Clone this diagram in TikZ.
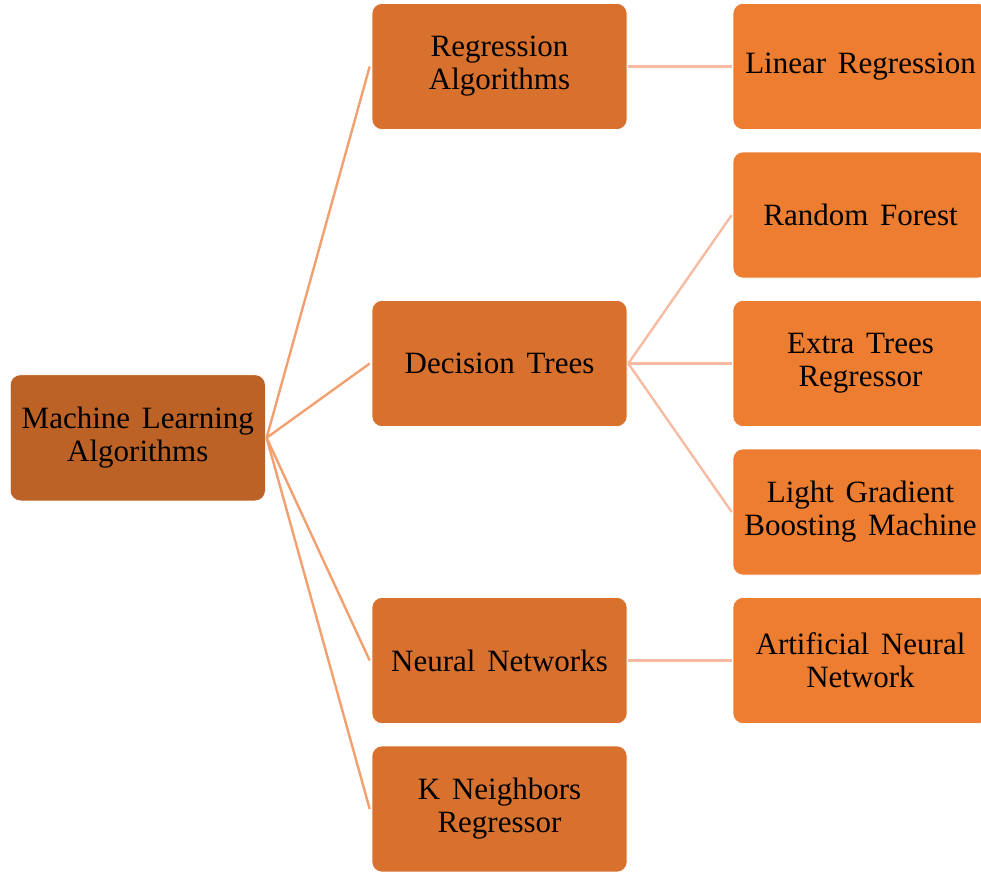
\documentclass[tikz,border=0pt]{standalone}
\usepackage{fontspec}
\setmainfont{Liberation Serif}
\definecolor{rootc}{HTML}{BD6227}
\definecolor{midc}{HTML}{D9712E}
\definecolor{leafc}{HTML}{ED7D31}
\definecolor{lineA}{HTML}{F2A070}
\definecolor{lineB}{HTML}{F6BBA2}
\newcommand{\myboxfont}{\fontsize{31}{33}\selectfont\spaceskip=0.38em plus 0.1em\relax}
\begin{document}
\begin{tikzpicture}[x=1pt,y=-1pt,
  box/.style={rectangle, rounded corners=10pt, draw=white, line width=0.6pt,
    minimum width=255pt, minimum height=126pt, inner sep=0pt, align=center,
    font=\myboxfont, text=black},
  rootbox/.style={box, fill=rootc},
  midbox/.style={box, fill=midc},
  leafbox/.style={box, fill=leafc},
  linkA/.style={draw=lineA, line width=2.4pt},
  linkB/.style={draw=lineB, line width=2.4pt}]
\useasboundingbox (0,0) rectangle (981,871);
% root
\node[rootbox] (root) at (137.8,437.8) {Machine Learning\\Algorithms};
% level 2
\node[midbox] (reg) at (499.5,66.5) {Regression\\Algorithms};
\node[midbox] (dt) at (499.5,363.5) {Decision Trees};
\node[midbox] (nn) at (499.5,660.5) {Neural Networks};
\node[midbox] (knn) at (499.5,809) {K Neighbors\\Regressor};
% level 3
\node[leafbox] (lr) at (860.5,66.5) {Linear Regression};
\node[leafbox] (rf) at (860.5,215) {Random Forest};
\node[leafbox] (et) at (860.5,363.5) {Extra Trees\\Regressor};
\node[leafbox] (lgbm) at (860.5,512) {Light Gradient\\Boosting Machine};
\node[leafbox] (ann) at (860.5,660.5) {Artificial Neural\\Network};
% connectors
\draw[linkA] ([xshift=1pt]root.east) -- ([xshift=-2pt]reg.west);
\draw[linkA] ([xshift=1pt]root.east) -- ([xshift=-2pt]dt.west);
\draw[linkA] ([xshift=1pt]root.east) -- ([xshift=-2pt]nn.west);
\draw[linkA] ([xshift=1pt]root.east) -- ([xshift=-2pt]knn.west);
\draw[linkB] ([xshift=1pt]reg.east) -- ([xshift=-1pt]lr.west);
\draw[linkB] ([xshift=1pt]dt.east) -- ([xshift=-1pt]rf.west);
\draw[linkB] ([xshift=1pt]dt.east) -- ([xshift=-1pt]et.west);
\draw[linkB] ([xshift=1pt]dt.east) -- ([xshift=-1pt]lgbm.west);
\draw[linkB] ([xshift=1pt]nn.east) -- ([xshift=-1pt]ann.west);
\end{tikzpicture}
\end{document}
